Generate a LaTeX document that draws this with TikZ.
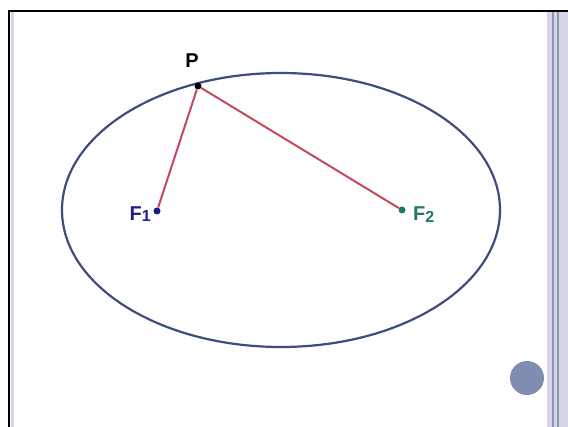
\documentclass[tikz,border=0pt]{standalone}
\usepackage{fontspec}
\setmainfont{Liberation Sans}
\definecolor{ellc}{HTML}{3E4C7E}
\definecolor{linec}{HTML}{C24A5C}
\definecolor{fonec}{HTML}{1C1C8E}
\definecolor{ftwoc}{HTML}{1E7A5C}
\definecolor{circc}{HTML}{7F8DB3}
\definecolor{bandc}{HTML}{D4D7E6}
\definecolor{bandline}{HTML}{8F97B5}
\begin{document}
\begin{tikzpicture}[x=1pt,y=-1pt,
  lbl/.style={font=\bfseries\fontsize{20}{22}\selectfont, inner sep=0pt},
  dot/.style={circle, fill, inner sep=0pt, minimum size=7pt},
  seg/.style={draw=linec, line width=2pt}]
\useasboundingbox (0,0) rectangle (568,427);
\fill[white] (0,0) rectangle (568,427);
% frame
\fill[bandc] (11,12) rectangle (14,427);
\fill[bandc] (547,12) rectangle (568,427);
\draw[bandline, line width=1.2pt] (553,12) -- (553,427);
\draw[bandline, line width=1.2pt] (558,12) -- (558,427);
\draw[black, line width=2.2pt] (9,427) -- (9,11) -- (568,11);
% ellipse
\draw[ellc, line width=2.2pt] (281,210) ellipse [x radius=219, y radius=137];
% points
\node[dot, fill=black] (P) at (198,86) {};
\node[dot, fill=fonec] (F1) at (157,211) {};
\node[dot, fill=ftwoc] (F2) at (402,210) {};
\draw[seg] (P) -- (F1);
\draw[seg] (P) -- (F2);
\node[lbl] (Pl) at (192,61) {P};
\node[lbl, text=fonec, anchor=east] (F1l) at (151,214) {F\raisebox{-1pt}{\fontsize{16}{17}\selectfont 1}};
\node[lbl, text=ftwoc, anchor=west] (F2l) at (413,215) {F\raisebox{-2pt}{\fontsize{16}{17}\selectfont 2}};
% bullet circle
\node[circle, fill=circc, minimum size=34pt, inner sep=0pt] (bul) at (527,378) {};
\end{tikzpicture}
\end{document}
